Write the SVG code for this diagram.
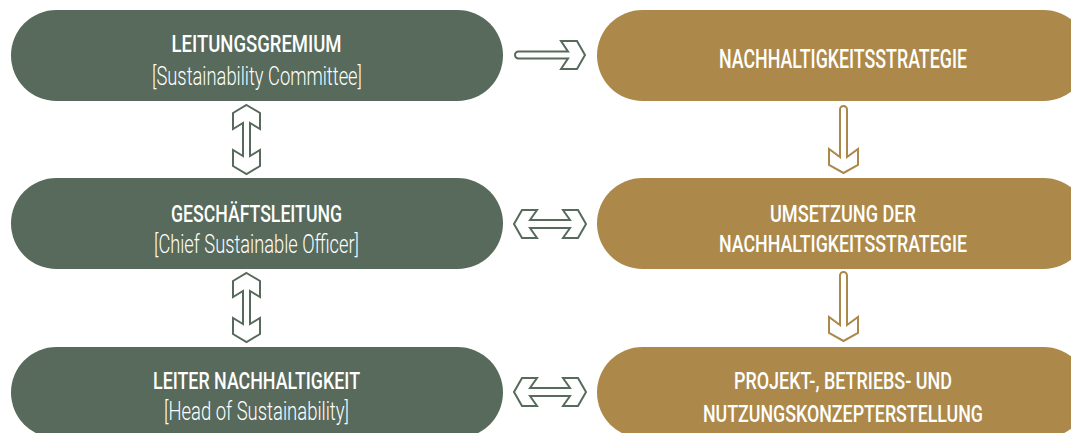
<svg xmlns="http://www.w3.org/2000/svg" width="1071" height="433" viewBox="0 0 1071 433">
<style>
.g{fill:#576a5b}
.o{fill:#ac894a}
.t{font-family:Roboto,"Liberation Sans",sans-serif;fill:#fff;text-anchor:middle}
.h{font-size:24px;font-weight:500}
.s{font-size:26px;font-weight:300}
.ag{fill:#fff;stroke:#576a5b;stroke-width:2;stroke-linejoin:miter}
.ao{fill:#fff;stroke:#ac894a;stroke-width:2;stroke-linejoin:miter}
</style>
<rect width="1071" height="433" fill="#fff"/>
<g id="leitungsgremium">
<rect class="g" x="11" y="10" width="492" height="91" rx="45.5"/>
<text class="t h" x="256.5" y="52" textLength="170" lengthAdjust="spacingAndGlyphs">LEITUNGSGREMIUM</text>
<text class="t s" x="257" y="85" textLength="210" lengthAdjust="spacingAndGlyphs">[Sustainability Committee]</text>
</g>
<g id="geschaeftsleitung">
<rect class="g" x="11" y="178" width="492" height="91" rx="45.5"/>
<text class="t h" x="256.5" y="222" textLength="171" lengthAdjust="spacingAndGlyphs">GESCHÄFTSLEITUNG</text>
<text class="t s" x="256.5" y="253" textLength="205" lengthAdjust="spacingAndGlyphs">[Chief Sustainable Officer]</text>
</g>
<g id="leiter">
<rect class="g" x="11" y="347" width="492" height="91" rx="45.5"/>
<text class="t h" x="256.5" y="389" textLength="207" lengthAdjust="spacingAndGlyphs">LEITER NACHHALTIGKEIT</text>
<text class="t s" x="256.5" y="420" textLength="185" lengthAdjust="spacingAndGlyphs">[Head of Sustainability]</text>
</g>
<g id="strategie">
<rect class="o" x="597" y="10" width="492" height="91" rx="45.5"/>
<text class="t h" x="843" y="68" style="font-size:25px" textLength="248" lengthAdjust="spacingAndGlyphs">NACHHALTIGKEITSSTRATEGIE</text>
</g>
<g id="umsetzung">
<rect class="o" x="597" y="178" width="492" height="91" rx="45.5"/>
<text class="t h" x="843" y="222" textLength="146" lengthAdjust="spacingAndGlyphs">UMSETZUNG DER</text>
<text class="t h" x="843" y="252" textLength="248" lengthAdjust="spacingAndGlyphs">NACHHALTIGKEITSSTRATEGIE</text>
</g>
<g id="konzept">
<rect class="o" x="597" y="347" width="492" height="91" rx="45.5"/>
<text class="t h" x="843" y="389" textLength="218" lengthAdjust="spacingAndGlyphs">PROJEKT-, BETRIEBS- UND</text>
<text class="t h" x="843" y="422" textLength="280" lengthAdjust="spacingAndGlyphs">NUTZUNGSKONZEPTERSTELLUNG</text>
</g>
<g id="connectors">
<path class="ag" d="M518.5,51.5 L568,51.5 L561,41 L577,41 L585,55 L577,69 L561,69 L568,58.5 L518.5,58.5 A3.5,3.5 0 0 1 518.5,51.5 Z"/>
<path class="ag" d="M514,224 L522,210 L537,210 L530,220 L570,220 L563,210 L578,210 L586,224 L578,238 L563,238 L570,228 L530,228 L537,238 L522,238 Z"/>
<path class="ag" d="M514,392 L522,378 L537,378 L530,388 L570,388 L563,378 L578,378 L586,392 L578,406 L563,406 L570,396 L530,396 L537,406 L522,406 Z"/>
<path class="ag" d="M246.5,105 L260,113 L260,129 L250,123 L250,156 L260,150 L260,166 L246.5,174 L233,166 L233,150 L243,156 L243,123 L233,129 L233,113 Z"/>
<path class="ag" d="M246.5,273 L260,281 L260,297 L250,291 L250,324 L260,318 L260,334 L246.5,342 L233,334 L233,318 L243,324 L243,291 L233,297 L233,281 Z"/>
<path class="ao" d="M840,109.5 A3.5,3.5 0 0 1 847,109.5 L847,157 L858,149 L858,165 L843.5,173 L829,165 L829,149 L840,157 Z"/>
<path class="ao" d="M840,275.5 A3.5,3.5 0 0 1 847,275.5 L847,325 L858,317 L858,333 L843.5,341 L829,333 L829,317 L840,325 Z"/>
</g>
</svg>
